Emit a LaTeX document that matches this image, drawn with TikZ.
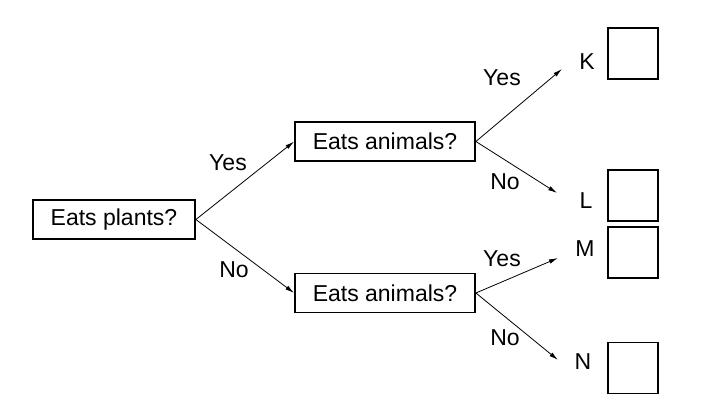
\documentclass[tikz,border=0pt]{standalone}
\usepackage{fontspec}
\setmainfont{Liberation Sans}
\usetikzlibrary{arrows.meta}
\begin{document}
\begin{tikzpicture}[x=1pt,y=-1pt,
  qbox/.style={draw,line width=1.8pt,minimum height=39pt,inner sep=0pt,font=\fontsize{23}{26}\selectfont},
  lbl/.style={inner sep=0pt,font=\fontsize{23}{26}\selectfont},
  sq/.style={draw,line width=1.8pt,minimum width=50pt,minimum height=51pt,inner sep=0pt},
  arr/.style={line width=0.8pt,-{Latex[length=9pt,width=4.5pt]}}]
\useasboundingbox (0,0) rectangle (701,420);
\node[qbox,minimum width=162pt] (plants) at (114,219.5) {Eats plants?};
\node[qbox,minimum width=180pt] (up) at (385,141.5) {Eats animals?};
\node[qbox,minimum width=180pt] (down) at (385,293) {Eats animals?};
\coordinate (kt) at (562,69);
\coordinate (lt) at (557,193);
\coordinate (mt) at (558,258);
\coordinate (nt) at (558,360);
\draw[arr] (plants.east) -- (up.west);
\draw[arr] (plants.east) -- (down.west);
\draw[arr] (up.east) -- (kt);
\draw[arr] (up.east) -- (lt);
\draw[arr] (down.east) -- (mt);
\draw[arr] (down.east) -- (nt);
\node[lbl] (y1) at (228,163) {Yes};
\node[lbl] (n1) at (234,270) {No};
\node[lbl] (y2) at (502,78) {Yes};
\node[lbl] (n2) at (505,182) {No};
\node[lbl] (y3) at (502,259) {Yes};
\node[lbl] (n3) at (505,338) {No};
\node[lbl] (K) at (587,62) {K};
\node[lbl] (L) at (586,201) {L};
\node[lbl] (M) at (585,249) {M};
\node[lbl] (N) at (583,362) {N};
\node[sq] (sk) at (633,53.5) {};
\node[sq] (sl) at (633,195.5) {};
\node[sq] (sm) at (633,252.5) {};
\node[sq] (sn) at (633,368) {};
\end{tikzpicture}
\end{document}
